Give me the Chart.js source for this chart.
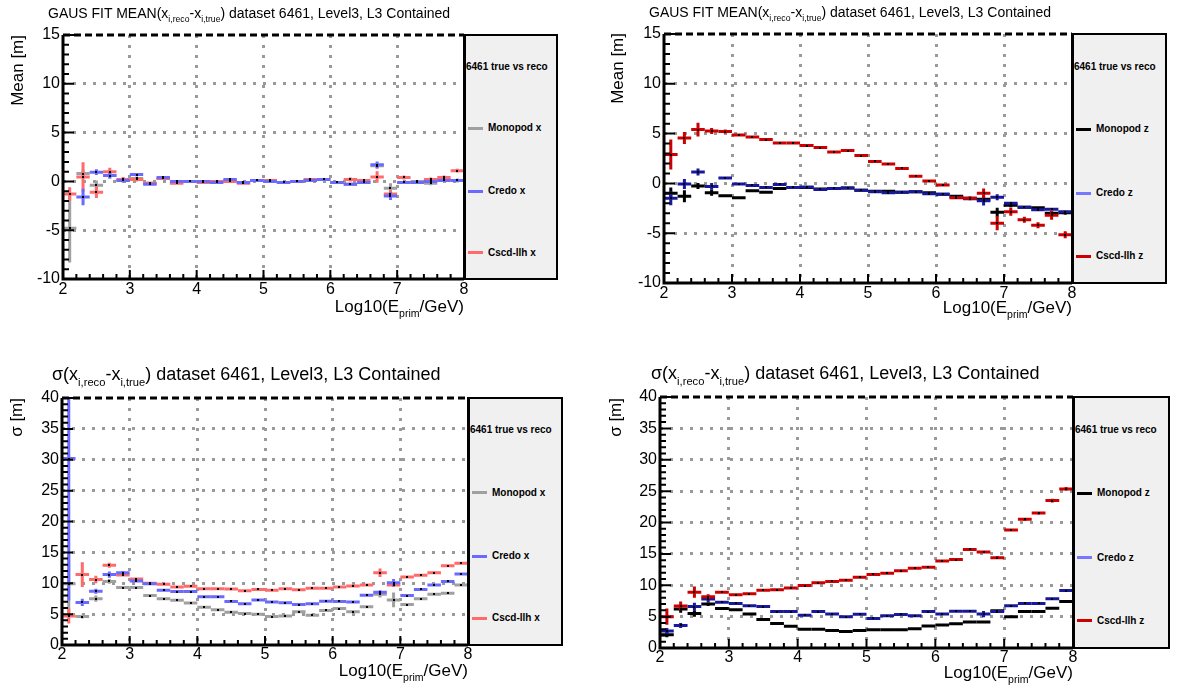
<!DOCTYPE html>
<html>
<head>
<meta charset="utf-8">
<script src="https://cdn.jsdelivr.net/npm/chart.js@4.4.0/dist/chart.umd.min.js"></script>
<style>
    body { margin: 0; background: #fff; width: 1184px; height: 692px; overflow: hidden; position: relative;
           font-family: "Liberation Sans", Arial, Helvetica, sans-serif; color: #000; }
    canvas { position: absolute; }
    .txt { position: absolute; white-space: nowrap; line-height: 1; }
    .txt sub { font-size: 0.62em; vertical-align: -0.5em; line-height: 0; }
    .ytitle { transform-origin: 0 0; transform: rotate(-90deg); text-align: right; width: 200px; }
    .xtitle { text-align: right; width: 300px; }
    .legend { position: absolute; background: #f0f0f0; border: 2px solid #000; border-left-width: 3px; box-sizing: border-box; z-index: 2; }
    .legend div { position: absolute; font-weight: bold; font-size: 10px; line-height: 10px; white-space: nowrap; }
    .legend span { position: absolute; width: 15px; height: 3px; }
</style>
</head>
<body>
<canvas id="cTL" width="476" height="309" style="left:0px;top:0px"></canvas>
<canvas id="cTR" width="494" height="313" style="left:590px;top:0px"></canvas>
<canvas id="cBL" width="480" height="335" style="left:0px;top:340px"></canvas>
<canvas id="cBR" width="495" height="338" style="left:590px;top:340px"></canvas>

<div class="txt" style="left:48px;top:6px;font-size:14px">GAUS FIT MEAN(x<sub>i,reco</sub>-x<sub>i,true</sub>) dataset 6461, Level3, L3 Contained</div>
<div class="txt" style="left:649px;top:5px;font-size:14px">GAUS FIT MEAN(x<sub>i,reco</sub>-x<sub>i,true</sub>) dataset 6461, Level3, L3 Contained</div>
<div class="txt" style="left:52px;top:365px;font-size:18px">&sigma;(x<sub>i,reco</sub>-x<sub>i,true</sub>) dataset 6461, Level3, L3 Contained</div>
<div class="txt" style="left:651px;top:364px;font-size:18px">&sigma;(x<sub>i,reco</sub>-x<sub>i,true</sub>) dataset 6461, Level3, L3 Contained</div>

<div class="txt xtitle" style="left:164px;top:298px;font-size:17px">Log10(E<sub>prim</sub>/GeV)</div>
<div class="txt xtitle" style="left:772px;top:299px;font-size:17px">Log10(E<sub>prim</sub>/GeV)</div>
<div class="txt xtitle" style="left:168px;top:662px;font-size:17px">Log10(E<sub>prim</sub>/GeV)</div>
<div class="txt xtitle" style="left:773px;top:664px;font-size:17px">Log10(E<sub>prim</sub>/GeV)</div>

<div class="txt ytitle" style="left:9px;top:235px;font-size:17px">Mean [m]</div>
<div class="txt ytitle" style="left:609px;top:233px;font-size:17px">Mean [m]</div>
<div class="txt ytitle" style="left:8px;top:598px;font-size:17px">&sigma; [m]</div>
<div class="txt ytitle" style="left:607px;top:598px;font-size:17px">&sigma; [m]</div>

<script>
// bin centres of Log10(E_prim/GeV), bins are 0.2 wide
const binCenters = [2.1, 2.3, 2.5, 2.7, 2.9, 3.1, 3.3, 3.5, 3.7, 3.9, 4.1, 4.3, 4.5, 4.7, 4.9,
                    5.1, 5.3, 5.5, 5.7, 5.9, 6.1, 6.3, 6.5, 6.7, 6.9, 7.1, 7.3, 7.5, 7.7, 7.9];

// mean of x residual (top left)
const monopodMeanX    = [-4.8, 0.8, -0.4, 0.6, 0.1, 0.3, -0.2, 0.3, -0.1, 0.0, 0.0, 0.0, 0.1, -0.1, 0.1, 0.1, -0.1, 0.0, 0.1, 0.2, -0.1, -0.3, -0.1, 1.6, -0.7, -0.1, 0.0, -0.2, 0.2, 0.1];
const monopodMeanXErr = [3.5, 0.4, 0.5, 0.3, 0.2, 0.2, 0.15, 0.15, 0.1, 0.1, 0.1, 0.1, 0.1, 0.1, 0.1, 0.1, 0.1, 0.1, 0.1, 0.1, 0.1, 0.15, 0.15, 0.3, 0.5, 0.15, 0.15, 0.2, 0.2, 0.2];
const credoMeanX      = [null, -1.6, 0.95, 0.6, 0.1, 0.7, -0.3, 0.4, 0.0, 0.0, 0.0, -0.1, 0.2, -0.1, 0.1, 0.0, -0.1, 0.0, 0.1, 0.2, -0.1, -0.3, -0.1, 1.7, -1.5, -0.1, -0.1, 0.0, 0.1, 0.1];
const credoMeanXErr   = [0, 0.85, 0.3, 0.3, 0.2, 0.15, 0.15, 0.15, 0.1, 0.1, 0.1, 0.1, 0.1, 0.1, 0.1, 0.1, 0.1, 0.1, 0.1, 0.1, 0.1, 0.15, 0.15, 0.35, 0.4, 0.15, 0.15, 0.15, 0.15, 0.15];
const cscdMeanX       = [-1.3, 0.45, -1.1, 1.0, 0.2, 0.2, -0.2, 0.3, -0.2, 0.0, -0.1, 0.0, 0.0, -0.2, 0.1, 0.1, -0.1, 0.0, 0.2, 0.2, -0.1, 0.2, 0.1, 0.45, -1.3, 0.4, -0.1, 0.2, 0.4, 1.1];
const cscdMeanXErr    = [0.7, 1.5, 0.6, 0.4, 0.25, 0.2, 0.15, 0.15, 0.1, 0.1, 0.1, 0.1, 0.1, 0.1, 0.1, 0.1, 0.1, 0.1, 0.1, 0.1, 0.1, 0.2, 0.15, 0.6, 0.4, 0.2, 0.15, 0.2, 0.2, 0.2];

// mean of z residual (top right)
const monopodMeanZ    = [-1.0, -1.3, -0.25, -0.95, -1.25, -1.45, -0.75, -0.9, -0.5, -0.4, -0.4, -0.55, -0.5, -0.45, -0.7, -0.8, -0.8, -0.9, -0.85, -0.95, -1.1, -1.3, -1.5, -1.6, -2.9, -2.2, -2.4, -2.45, -3.0, -2.95];
const monopodMeanZErr = [0.6, 0.6, 0.3, 0.3, 0.15, 0.15, 0.15, 0.1, 0.1, 0.1, 0.1, 0.1, 0.1, 0.1, 0.1, 0.1, 0.1, 0.1, 0.1, 0.1, 0.1, 0.1, 0.15, 0.2, 0.45, 0.2, 0.15, 0.15, 0.2, 0.2];
const credoMeanZ      = [-1.5, -0.05, 1.15, -0.3, 0.55, -0.05, -0.2, -0.4, -0.1, -0.4, -0.35, -0.6, -0.5, -0.45, -0.7, -0.85, -0.95, -0.9, -0.85, -1.05, -1.1, -1.4, -1.53, -1.73, -1.4, -2.0, -2.4, -2.65, -2.6, -2.85];
const credoMeanZErr   = [0.7, 0.5, 0.35, 0.35, 0.15, 0.1, 0.1, 0.1, 0.1, 0.1, 0.1, 0.1, 0.1, 0.1, 0.1, 0.1, 0.1, 0.1, 0.1, 0.1, 0.1, 0.1, 0.15, 0.5, 0.3, 0.15, 0.15, 0.15, 0.15, 0.15];
const cscdMeanZ       = [2.9, 4.55, 5.4, 5.25, 5.2, 4.85, 4.65, 4.4, 4.05, 4.05, 3.8, 3.6, 3.15, 3.3, 2.8, 2.2, 1.95, 1.5, 0.72, 0.25, -0.17, -1.45, -1.5, -1.0, -4.0, -2.85, -3.65, -4.2, -3.2, -5.15];
const cscdMeanZErr    = [1.5, 0.6, 0.7, 0.3, 0.2, 0.15, 0.15, 0.1, 0.1, 0.1, 0.1, 0.1, 0.1, 0.1, 0.1, 0.1, 0.1, 0.1, 0.1, 0.1, 0.15, 0.15, 0.2, 0.5, 0.7, 0.4, 0.3, 0.3, 0.45, 0.35];

// sigma of x residual (bottom left)
const monopodSigmaX    = [9.9, 4.6, 7.5, 10.3, 9.3, 9.3, 8.0, 7.5, 7.25, 6.8, 6.1, 5.7, 5.3, 5.1, 5.0, 4.6, 4.7, 5.4, 4.8, 5.6, 5.9, 5.4, 6.2, 8.2, 7.3, 6.55, 7.5, 8.2, 8.4, 9.7];
const monopodSigmaXErr = [5.0, 0.3, 0.5, 0.4, 0.2, 0.2, 0.15, 0.15, 0.15, 0.15, 0.15, 0.15, 0.15, 0.15, 0.15, 0.15, 0.15, 0.15, 0.15, 0.15, 0.15, 0.15, 0.2, 0.5, 1.2, 0.2, 0.2, 0.2, 0.2, 0.2];
const credoSigmaX      = [30.2, 6.9, 8.7, 11.4, 11.7, 10.35, 9.9, 8.85, 8.65, 8.65, 7.8, 7.8, 7.05, 6.7, 7.3, 6.95, 6.85, 6.55, 6.7, 7.1, 7.05, 6.95, 8.05, 8.55, 10.1, 8.0, 9.0, 9.7, 10.3, 11.5];
const credoSigmaXErr   = [23, 0.6, 0.4, 0.5, 0.3, 0.2, 0.15, 0.15, 0.15, 0.15, 0.15, 0.15, 0.15, 0.15, 0.15, 0.15, 0.15, 0.15, 0.15, 0.15, 0.15, 0.15, 0.2, 0.3, 0.6, 0.2, 0.2, 0.2, 0.2, 0.2];
const cscdSigmaX       = [4.7, 11.4, 10.6, 12.9, 11.35, 10.7, 10.0, 9.85, 9.4, 9.5, 9.1, 9.1, 9.05, 8.8, 9.0, 8.85, 9.1, 8.95, 9.2, 9.2, 9.4, 9.55, 9.7, 11.7, 9.7, 11.0, 11.3, 11.7, 12.85, 13.25];
const cscdSigmaXErr    = [1.2, 2.0, 0.6, 0.4, 0.25, 0.2, 0.15, 0.15, 0.15, 0.15, 0.15, 0.15, 0.15, 0.15, 0.15, 0.15, 0.15, 0.15, 0.15, 0.15, 0.15, 0.15, 0.2, 0.7, 0.3, 0.2, 0.2, 0.2, 0.2, 0.2];

// sigma of z residual (bottom right)
const monopodSigmaZ    = [2.1, 6.2, 5.5, 7.0, 6.3, 6.1, 5.4, 4.55, 3.9, 3.45, 3.0, 3.0, 2.78, 2.62, 2.8, 2.9, 2.9, 2.9, 3.05, 3.5, 3.65, 3.85, 4.15, 4.15, 5.95, 5.0, 5.8, 5.8, 6.35, 7.4];
const monopodSigmaZErr = [0.4, 0.6, 0.5, 0.3, 0.15, 0.15, 0.15, 0.15, 0.15, 0.15, 0.15, 0.15, 0.15, 0.15, 0.15, 0.15, 0.15, 0.15, 0.15, 0.15, 0.15, 0.15, 0.15, 0.15, 0.2, 0.15, 0.15, 0.15, 0.2, 0.2];
const credoSigmaZ      = [2.7, 3.6, 6.6, 7.8, 7.3, 7.1, 6.75, 6.6, 5.8, 5.8, 5.2, 5.8, 5.4, 5.0, 5.37, 4.72, 5.15, 5.35, 5.15, 5.8, 5.4, 5.85, 5.85, 5.4, 5.8, 6.75, 7.1, 7.1, 7.85, 9.15];
const credoSigmaZErr   = [0.5, 0.4, 0.6, 0.5, 0.2, 0.15, 0.15, 0.15, 0.15, 0.15, 0.15, 0.15, 0.15, 0.15, 0.15, 0.15, 0.15, 0.15, 0.15, 0.15, 0.15, 0.15, 0.15, 0.5, 0.2, 0.15, 0.15, 0.15, 0.2, 0.2];
const cscdSigmaZ       = [5.0, 6.7, 8.9, 8.15, 8.9, 8.5, 8.65, 9.2, 9.3, 9.55, 9.95, 10.4, 10.6, 10.8, 11.27, 11.73, 11.9, 12.3, 12.7, 12.85, 13.85, 14.1, 15.7, 15.3, 14.4, 18.8, 20.5, 21.5, 23.5, 25.35];
const cscdSigmaZErr    = [1.3, 0.7, 0.9, 0.4, 0.2, 0.2, 0.15, 0.15, 0.15, 0.15, 0.15, 0.15, 0.15, 0.15, 0.15, 0.15, 0.15, 0.15, 0.15, 0.15, 0.15, 0.2, 0.2, 0.2, 0.25, 0.25, 0.25, 0.25, 0.3, 0.3];

const fontFamily = '"Liberation Sans", Arial, Helvetica, sans-serif';

// ROOT-like look: error crosses, centre dots, inner ticks, dashed top frame
const rootStyle = {
    id: 'rootStyle',
    afterDatasetsDraw(chart) {
        const { ctx, chartArea: a, scales: { x, y } } = chart;
        ctx.save();
        ctx.beginPath();
        ctx.rect(a.left, a.top, a.right - a.left, a.bottom - a.top);
        ctx.clip();
        ctx.lineCap = 'butt';
        chart.data.datasets.forEach(ds => {
            ctx.strokeStyle = ds.borderColor;
            ctx.lineWidth = 3;
            ds.data.forEach(d => {
                const yc = y.getPixelForValue(d.y);
                const xc = x.getPixelForValue(d.x);
                ctx.beginPath();
                ctx.moveTo(x.getPixelForValue(d.x - 0.1), yc);
                ctx.lineTo(x.getPixelForValue(d.x + 0.1), yc);
                if (d.e) {
                    ctx.moveTo(xc, y.getPixelForValue(d.y - d.e));
                    ctx.lineTo(xc, y.getPixelForValue(d.y + d.e));
                }
                ctx.stroke();
            });
        });
        ctx.fillStyle = '#000';
        chart.data.datasets.forEach(ds => ds.data.forEach(d => {
            ctx.fillRect(Math.round(x.getPixelForValue(d.x)) - 1, Math.round(y.getPixelForValue(d.y)) - 1, 2, 2);
        }));
        ctx.restore();
    },
    afterDraw(chart) {
        const { ctx, chartArea: a, scales: { x, y } } = chart;
        ctx.save();
        ctx.strokeStyle = '#000';
        ctx.lineWidth = 3;
        ctx.beginPath();
        ctx.moveTo(a.left, a.top);
        ctx.lineTo(a.left, a.bottom);
        ctx.lineTo(a.right, a.bottom);
        ctx.stroke();
        ctx.setLineDash([7, 4]);
        ctx.beginPath();
        ctx.moveTo(a.left, a.top);
        ctx.lineTo(a.right, a.top);
        ctx.stroke();
        ctx.setLineDash([]);
        ctx.lineWidth = 2;
        ctx.beginPath();
        for (let v = y.min; v <= y.max; v++) {
            const py = y.getPixelForValue(v);
            const len = (v % 5 === 0) ? 11 : 6;
            ctx.moveTo(a.left, py);
            ctx.lineTo(a.left + len, py);
        }
        for (let k = 0; k <= 30; k++) {
            const px = x.getPixelForValue(x.min + k * 0.2);
            const len = (k % 5 === 0) ? 9 : 5;
            ctx.moveTo(px, a.bottom);
            ctx.lineTo(px, a.bottom - len);
        }
        ctx.stroke();
        ctx.restore();
    }
};

const panels = [
    { id: 'cTL', left: 0, top: 0, L: 63, R: 464, T: 35, B: 279, legendRight: 558, yMin: -10, yMax: 15, labelPad: 1,
      title: '6461 true vs reco',
      series: [
          { label: 'Monopod x', color: '#a0a0a0', values: monopodMeanX, errors: monopodMeanXErr },
          { label: 'Cscd-llh x', color: '#ff6a6a', values: cscdMeanX, errors: cscdMeanXErr },
          { label: 'Credo x', color: '#6a6aff', values: credoMeanX, errors: credoMeanXErr }
      ],
      legend: [['Monopod x', '#a0a0a0'], ['Credo x', '#6a6aff'], ['Cscd-llh x', '#ff6a6a']] },
    { id: 'cTR', left: 590, top: 0, L: 664, R: 1072, T: 34, B: 283, legendRight: 1167, yMin: -10, yMax: 15, labelPad: 1,
      title: '6461 true vs reco',
      series: [
          { label: 'Monopod z', color: '#000000', values: monopodMeanZ, errors: monopodMeanZErr },
          { label: 'Credo z', color: '#18189c', values: credoMeanZ, errors: credoMeanZErr },
          { label: 'Cscd-llh z', color: '#cc0000', values: cscdMeanZ, errors: cscdMeanZErr }
      ],
      legend: [['Monopod z', '#000000'], ['Credo z', '#7878ff'], ['Cscd-llh z', '#cc0000']] },
    { id: 'cBL', left: 0, top: 340, L: 62, R: 468, T: 398, B: 645, legendRight: 563, yMin: 0, yMax: 40, labelPad: 0,
      title: '6461 true vs reco',
      series: [
          { label: 'Monopod x', color: '#a0a0a0', values: monopodSigmaX, errors: monopodSigmaXErr },
          { label: 'Cscd-llh x', color: '#ff6a6a', values: cscdSigmaX, errors: cscdSigmaXErr },
          { label: 'Credo x', color: '#6a6aff', values: credoSigmaX, errors: credoSigmaXErr }
      ],
      legend: [['Monopod x', '#a0a0a0'], ['Credo x', '#6a6aff'], ['Cscd-llh x', '#ff6a6a']] },
    { id: 'cBR', left: 590, top: 340, L: 660, R: 1073, T: 397, B: 648, legendRight: 1170, yMin: 0, yMax: 40, labelPad: 0,
      title: '6461 true vs reco',
      series: [
          { label: 'Monopod z', color: '#000000', values: monopodSigmaZ, errors: monopodSigmaZErr },
          { label: 'Credo z', color: '#18189c', values: credoSigmaZ, errors: credoSigmaZErr },
          { label: 'Cscd-llh z', color: '#cc0000', values: cscdSigmaZ, errors: cscdSigmaZErr }
      ],
      legend: [['Monopod z', '#000000'], ['Credo z', '#7878ff'], ['Cscd-llh z', '#cc0000']] }
];

function buildChart(p) {
    const canvas = document.getElementById(p.id);
    const yWidth = p.L - p.left;
    const padTop = p.T - p.top;
    const padRight = canvas.width - (p.R - p.left);
    const xHeight = canvas.height - (p.B - p.top);
    const edgeColor = (c, lo, hi) => (c.tick && (c.tick.value === lo || c.tick.value === hi)) ? 'rgba(0,0,0,0)' : '#9a9a9a';

    const datasets = p.series.map(s => ({
        label: s.label,
        data: binCenters.map((x, i) => ({ x: x, y: s.values[i], e: s.errors[i] })).filter(d => d.y !== null),
        borderColor: s.color,
        backgroundColor: s.color,
        pointRadius: 0,
        showLine: false
    }));

    return new Chart(canvas.getContext('2d'), {
        type: 'scatter',
        data: { datasets: datasets },
        options: {
            responsive: false,
            animation: false,
            devicePixelRatio: 1,
            events: [],
            layout: { padding: { top: padTop, right: padRight, left: 0, bottom: 0 } },
            plugins: { legend: { display: false }, tooltip: { enabled: false } },
            scales: {
                x: {
                    type: 'linear', min: 2, max: 8,
                    ticks: { stepSize: 1, autoSkip: false, maxRotation: 0, padding: p.labelPad, color: '#000',
                             font: { size: 16, family: fontFamily } },
                    grid: { color: c => edgeColor(c, 2, 8), lineWidth: 3, drawTicks: false },
                    border: { display: false, dash: [3, 7] },
                    afterFit: s => { s.height = xHeight; }
                },
                y: {
                    type: 'linear', min: p.yMin, max: p.yMax,
                    ticks: { stepSize: 5, autoSkip: false, padding: 3, color: '#000',
                             font: { size: 16, family: fontFamily } },
                    grid: { color: c => edgeColor(c, p.yMin, p.yMax), lineWidth: 3, drawTicks: false },
                    border: { display: false, dash: [3, 7] },
                    afterFit: s => { s.width = yWidth; }
                }
            }
        },
        plugins: [rootStyle]
    });
}

function buildLegend(p) {
    const box = document.createElement('div');
    box.className = 'legend';
    const h = p.B - p.T + 2;
    box.style.left = (p.R - 1) + 'px';
    box.style.top = (p.T - 1) + 'px';
    box.style.width = (p.legendRight - p.R + 1) + 'px';
    box.style.height = h + 'px';

    const head = document.createElement('div');
    head.textContent = p.title;
    head.style.left = '0px';
    head.style.top = (0.13 * h - 6) + 'px';
    box.appendChild(head);

    const rows = [0.38, 0.635, 0.885];
    p.legend.forEach((entry, i) => {
        const yc = rows[i] * h - 1;
        const sw = document.createElement('span');
        sw.style.background = entry[1];
        sw.style.left = '2px';
        sw.style.top = (yc - 1.5) + 'px';
        box.appendChild(sw);
        const lab = document.createElement('div');
        lab.textContent = entry[0];
        lab.style.left = '22px';
        lab.style.top = (yc - 5) + 'px';
        box.appendChild(lab);
    });
    document.body.appendChild(box);
}

panels.forEach(p => {
    buildChart(p);
    buildLegend(p);
});
</script>
</body>
</html>
